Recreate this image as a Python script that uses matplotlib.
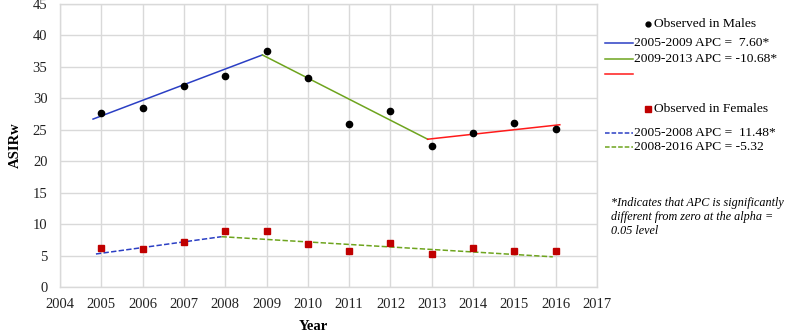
import matplotlib
matplotlib.use("Agg")
import matplotlib.pyplot as plt
from matplotlib.lines import Line2D

plt.rcParams['font.family'] = ['Liberation Serif', 'DejaVu Serif']

years = [2005, 2006, 2007, 2008, 2009, 2010, 2011, 2012, 2013, 2014, 2015, 2016]
males = [27.7, 28.5, 32.0, 33.5, 37.6, 33.3, 25.9, 28.0, 22.5, 24.5, 26.1, 25.2]
females = [6.2, 6.1, 7.2, 8.9, 8.9, 6.8, 5.8, 7.0, 5.2, 6.2, 5.7, 5.7]

# joinpoint trend segments (x, y)
male_seg1_x = [2004.8, 2008.9]
male_seg1_y = [26.7, 36.9]
male_seg2_x = [2008.9, 2012.9]
male_seg2_y = [36.9, 23.5]
male_seg3_x = [2012.9, 2016.1]
male_seg3_y = [23.5, 25.8]
fem_seg1_x = [2004.87, 2007.91]
fem_seg1_y = [5.25, 8.0]
fem_seg2_x = [2007.91, 2015.93]
fem_seg2_y = [8.0, 4.8]

legend_labels = ["Observed in Males", "2005-2009 APC =  7.60*", "2009-2013 APC = -10.68*", "",
                 "Observed in Females", "2005-2008 APC =  11.48*", "2008-2016 APC = -5.32"]
footnote = ["*Indicates that APC is significantly", "different from zero at the alpha =", "0.05 level"]

BLUE = "#2b3fc4"
GREEN = "#6ea41e"
RED = "#ff1a1a"
SQ = "#c00000"
GRID = "#d9d9d9"

W, H = 796, 333
fig = plt.figure(figsize=(W / 100, H / 100), dpi=100)
ax = fig.add_axes([60 / W, (H - 287) / H, (597 - 60) / W, (287 - 4) / H])

ax.plot(male_seg1_x, male_seg1_y, color=BLUE, lw=1.1)
ax.plot(male_seg2_x, male_seg2_y, color=GREEN, lw=1.1)
ax.plot(male_seg3_x, male_seg3_y, color=RED, lw=1.1)
ax.plot(fem_seg1_x, fem_seg1_y, color=BLUE, lw=1.1, ls=(0, (3.5, 1.5)))
ax.plot(fem_seg2_x, fem_seg2_y, color=GREEN, lw=1.1, ls=(0, (3.5, 1.5)))
ax.plot(years, males, 'o', color='black', ms=4.5, zorder=5)
ax.plot(years, females, 's', color=SQ, ms=4.5, zorder=5)

ax.set_xlim(2004, 2017)
ax.set_ylim(0, 45)
ax.set_xticks(range(2004, 2018))
ax.set_yticks(range(0, 46, 5))
ax.grid(True, color=GRID, lw=1)
ax.set_axisbelow(True)
for s in ax.spines.values():
    s.set_color(GRID)
    s.set_linewidth(1)
ax.tick_params(length=0, labelsize=10.5, colors='#222222')
ax.tick_params(axis='x', pad=8)
ax.tick_params(axis='y', pad=9)

fig.text(15 / W, 1 - 145 / H, "ASIRw", rotation=90, fontweight='bold', fontsize=10.5,
         ha='center', va='center')
fig.text(313 / W, 1 - 327 / H, "Year", fontweight='bold', fontsize=10.5, ha='center', va='center')

def fx(x):
    return x / W

def fy(y):
    return 1 - y / H

fs = 9.7
# Males legend
fig.add_artist(Line2D([fx(648)], [fy(24)], marker='o', color='black', ms=3.5, ls='none'))
fig.text(fx(654), fy(24), legend_labels[0], fontsize=fs, va='center', ha='left')
fig.add_artist(Line2D([fx(605), fx(633)], [fy(43), fy(43)], color=BLUE, lw=1.1))
fig.text(fx(634), fy(43), legend_labels[1], fontsize=fs, va='center', ha='left')
fig.add_artist(Line2D([fx(605), fx(633)], [fy(59), fy(59)], color=GREEN, lw=1.1))
fig.text(fx(634), fy(59), legend_labels[2], fontsize=fs, va='center', ha='left')
fig.add_artist(Line2D([fx(605), fx(633)], [fy(74), fy(74)], color=RED, lw=1.1))
# Females legend
fig.add_artist(Line2D([fx(648)], [fy(109)], marker='s', color=SQ, ms=3.8, ls='none'))
fig.text(fx(654), fy(109), legend_labels[4], fontsize=fs, va='center', ha='left')
fig.add_artist(Line2D([fx(605), fx(633)], [fy(133), fy(133)], color=BLUE, lw=1.1, ls=(0, (3, 1.3))))
fig.text(fx(634), fy(133), legend_labels[5], fontsize=fs, va='center', ha='left')
fig.add_artist(Line2D([fx(605), fx(633)], [fy(147), fy(147)], color=GREEN, lw=1.1, ls=(0, (3, 1.3))))
fig.text(fx(634), fy(147), legend_labels[6], fontsize=fs, va='center', ha='left')
# Footnote
for i, line in enumerate(footnote):
    fig.text(fx(611), fy(203 + 14 * i), line, fontsize=8.7, style='italic', va='center', ha='left')

fig.savefig("out.png", dpi=100)
